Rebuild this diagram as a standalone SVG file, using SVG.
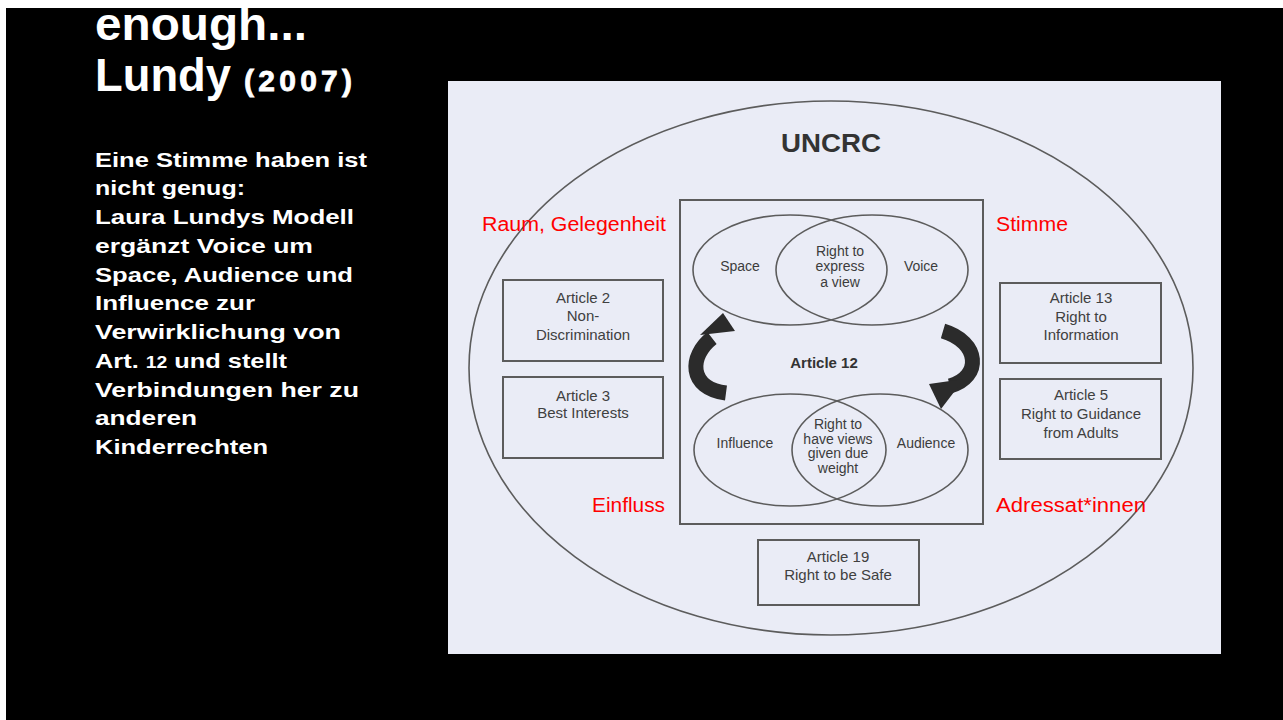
<svg xmlns="http://www.w3.org/2000/svg" width="1283" height="720" viewBox="0 0 1283 720">
  <style>
    .title { font-family: "Liberation Sans", Arial, sans-serif; font-weight: bold; fill: #ffffff; }
    .body { font-family: "Liberation Sans", Arial, sans-serif; font-weight: bold; font-size: 21px; fill: #ffffff; }
    .line { fill: none; stroke: #5c5c5c; stroke-width: 1.6; }
    .box { fill: none; stroke: #5c5c5c; stroke-width: 2; }
    .dt { font-family: "Liberation Sans", Arial, sans-serif; font-size: 14px; fill: #3c3c3c; text-anchor: middle; }
    .bt { font-family: "Liberation Sans", Arial, sans-serif; font-size: 15px; fill: #404040; text-anchor: middle; }
    .red { font-family: "Liberation Sans", Arial, sans-serif; font-size: 20px; fill: #ff0000; }
    .arrow { fill: none; stroke: #2b2b2b; stroke-width: 15; }
    .head { fill: #2b2b2b; }
  </style>
  <rect x="0" y="0" width="1283" height="720" fill="#ffffff"/>
  <rect x="6" y="8" width="1277" height="712" fill="#000000"/>

  <g id="title">
    <text class="title" x="95" y="40" font-size="46" textLength="212" lengthAdjust="spacingAndGlyphs">enough...</text>
    <text class="title" x="95" y="91" font-size="46" textLength="136" lengthAdjust="spacingAndGlyphs">Lundy</text>
    <text class="title" x="244" y="91" font-size="30" font-weight="normal" textLength="108" lengthAdjust="spacing" stroke="#ffffff" stroke-width="0.8">(2007)</text>
  </g>

  <g id="description">
    <text class="body" x="95" y="167" textLength="272" lengthAdjust="spacingAndGlyphs">Eine Stimme haben ist</text>
    <text class="body" x="95" y="195" textLength="150" lengthAdjust="spacingAndGlyphs">nicht genug:</text>
    <text class="body" x="95" y="224" textLength="259" lengthAdjust="spacingAndGlyphs">Laura Lundys Modell</text>
    <text class="body" x="95" y="253" textLength="218" lengthAdjust="spacingAndGlyphs">ergänzt Voice um</text>
    <text class="body" x="95" y="282" textLength="258" lengthAdjust="spacingAndGlyphs">Space, Audience und</text>
    <text class="body" x="95" y="310" textLength="160" lengthAdjust="spacingAndGlyphs">Influence zur</text>
    <text class="body" x="95" y="339" textLength="246" lengthAdjust="spacingAndGlyphs">Verwirklichung von</text>
    <text class="body" x="95" y="368" textLength="192" lengthAdjust="spacingAndGlyphs">Art. <tspan font-size="16">12</tspan> und stellt</text>
    <text class="body" x="95" y="397" textLength="264" lengthAdjust="spacingAndGlyphs">Verbindungen her zu</text>
    <text class="body" x="95" y="425" textLength="102" lengthAdjust="spacingAndGlyphs">anderen</text>
    <text class="body" x="95" y="454" textLength="173" lengthAdjust="spacingAndGlyphs">Kinderrechten</text>
  </g>

  <g id="panel">
    <rect x="448" y="81" width="773" height="573" fill="#eaecf6"/>
  </g>

  <g id="uncrc">
    <ellipse class="line" cx="831" cy="368" rx="362" ry="267"/>
    <text x="831" y="152" font-family="Liberation Sans, Arial, sans-serif" font-weight="bold" font-size="25" fill="#333333" text-anchor="middle" textLength="100" lengthAdjust="spacingAndGlyphs">UNCRC</text>
  </g>

  <g id="article12">
    <rect class="box" x="680" y="200" width="303" height="324"/>
    <text x="824" y="368" font-family="Liberation Sans, Arial, sans-serif" font-weight="bold" font-size="15" fill="#333333" text-anchor="middle">Article 12</text>
  </g>

  <g id="venn-top">
    <ellipse class="line" cx="790" cy="270" rx="97" ry="55"/>
    <ellipse class="line" cx="872" cy="270" rx="96" ry="55"/>
    <text class="dt" x="740" y="271">Space</text>
    <text class="dt" x="921" y="271">Voice</text>
    <text class="dt" x="840" y="256" font-size="13">Right to</text>
    <text class="dt" x="840" y="271" font-size="13">express</text>
    <text class="dt" x="840" y="287" font-size="13">a view</text>
  </g>

  <g id="venn-bottom">
    <ellipse class="line" cx="790" cy="450" rx="96" ry="56"/>
    <ellipse class="line" cx="880" cy="450" rx="88" ry="56"/>
    <text class="dt" x="745" y="448">Influence</text>
    <text class="dt" x="926" y="448">Audience</text>
    <text class="dt" x="838" y="429" font-size="13">Right to</text>
    <text class="dt" x="838" y="444" font-size="13">have views</text>
    <text class="dt" x="838" y="458" font-size="13">given due</text>
    <text class="dt" x="838" y="473" font-size="13">weight</text>
  </g>

  <g id="connectors">
    <path class="arrow" d="M 726 393 C 688 388 689 356 712 338"/>
    <polygon class="head" points="723,313 700,335 735,331"/>
    <path class="arrow" d="M 943 331 C 980 342 982 377 950 386"/>
    <polygon class="head" points="941,409 929,384 964,379"/>
  </g>

  <g id="article2">
    <rect class="box" x="503" y="280" width="160" height="81"/>
    <text class="bt" x="583" y="303">Article 2</text>
    <text class="bt" x="583" y="321">Non-</text>
    <text class="bt" x="583" y="340">Discrimination</text>
  </g>

  <g id="article3">
    <rect class="box" x="503" y="377" width="160" height="81"/>
    <text class="bt" x="583" y="401">Article 3</text>
    <text class="bt" x="583" y="418">Best Interests</text>
  </g>

  <g id="article13">
    <rect class="box" x="1000" y="283" width="161" height="80"/>
    <text class="bt" x="1081" y="303">Article 13</text>
    <text class="bt" x="1081" y="322">Right to</text>
    <text class="bt" x="1081" y="340">Information</text>
  </g>

  <g id="article5">
    <rect class="box" x="1000" y="379" width="161" height="80"/>
    <text class="bt" x="1081" y="400">Article 5</text>
    <text class="bt" x="1081" y="419">Right to Guidance</text>
    <text class="bt" x="1081" y="438">from Adults</text>
  </g>

  <g id="article19">
    <rect class="box" x="758" y="540" width="161" height="65"/>
    <text class="bt" x="838" y="562">Article 19</text>
    <text class="bt" x="838" y="580">Right to be Safe</text>
  </g>

  <g id="labels">
    <text class="red" x="482" y="231" textLength="184" lengthAdjust="spacingAndGlyphs">Raum, Gelegenheit</text>
    <text class="red" x="996" y="231" textLength="72" lengthAdjust="spacingAndGlyphs">Stimme</text>
    <text class="red" x="592" y="512" textLength="73" lengthAdjust="spacingAndGlyphs">Einfluss</text>
    <text class="red" x="996" y="512" textLength="150" lengthAdjust="spacingAndGlyphs">Adressat*innen</text>
  </g>
</svg>
